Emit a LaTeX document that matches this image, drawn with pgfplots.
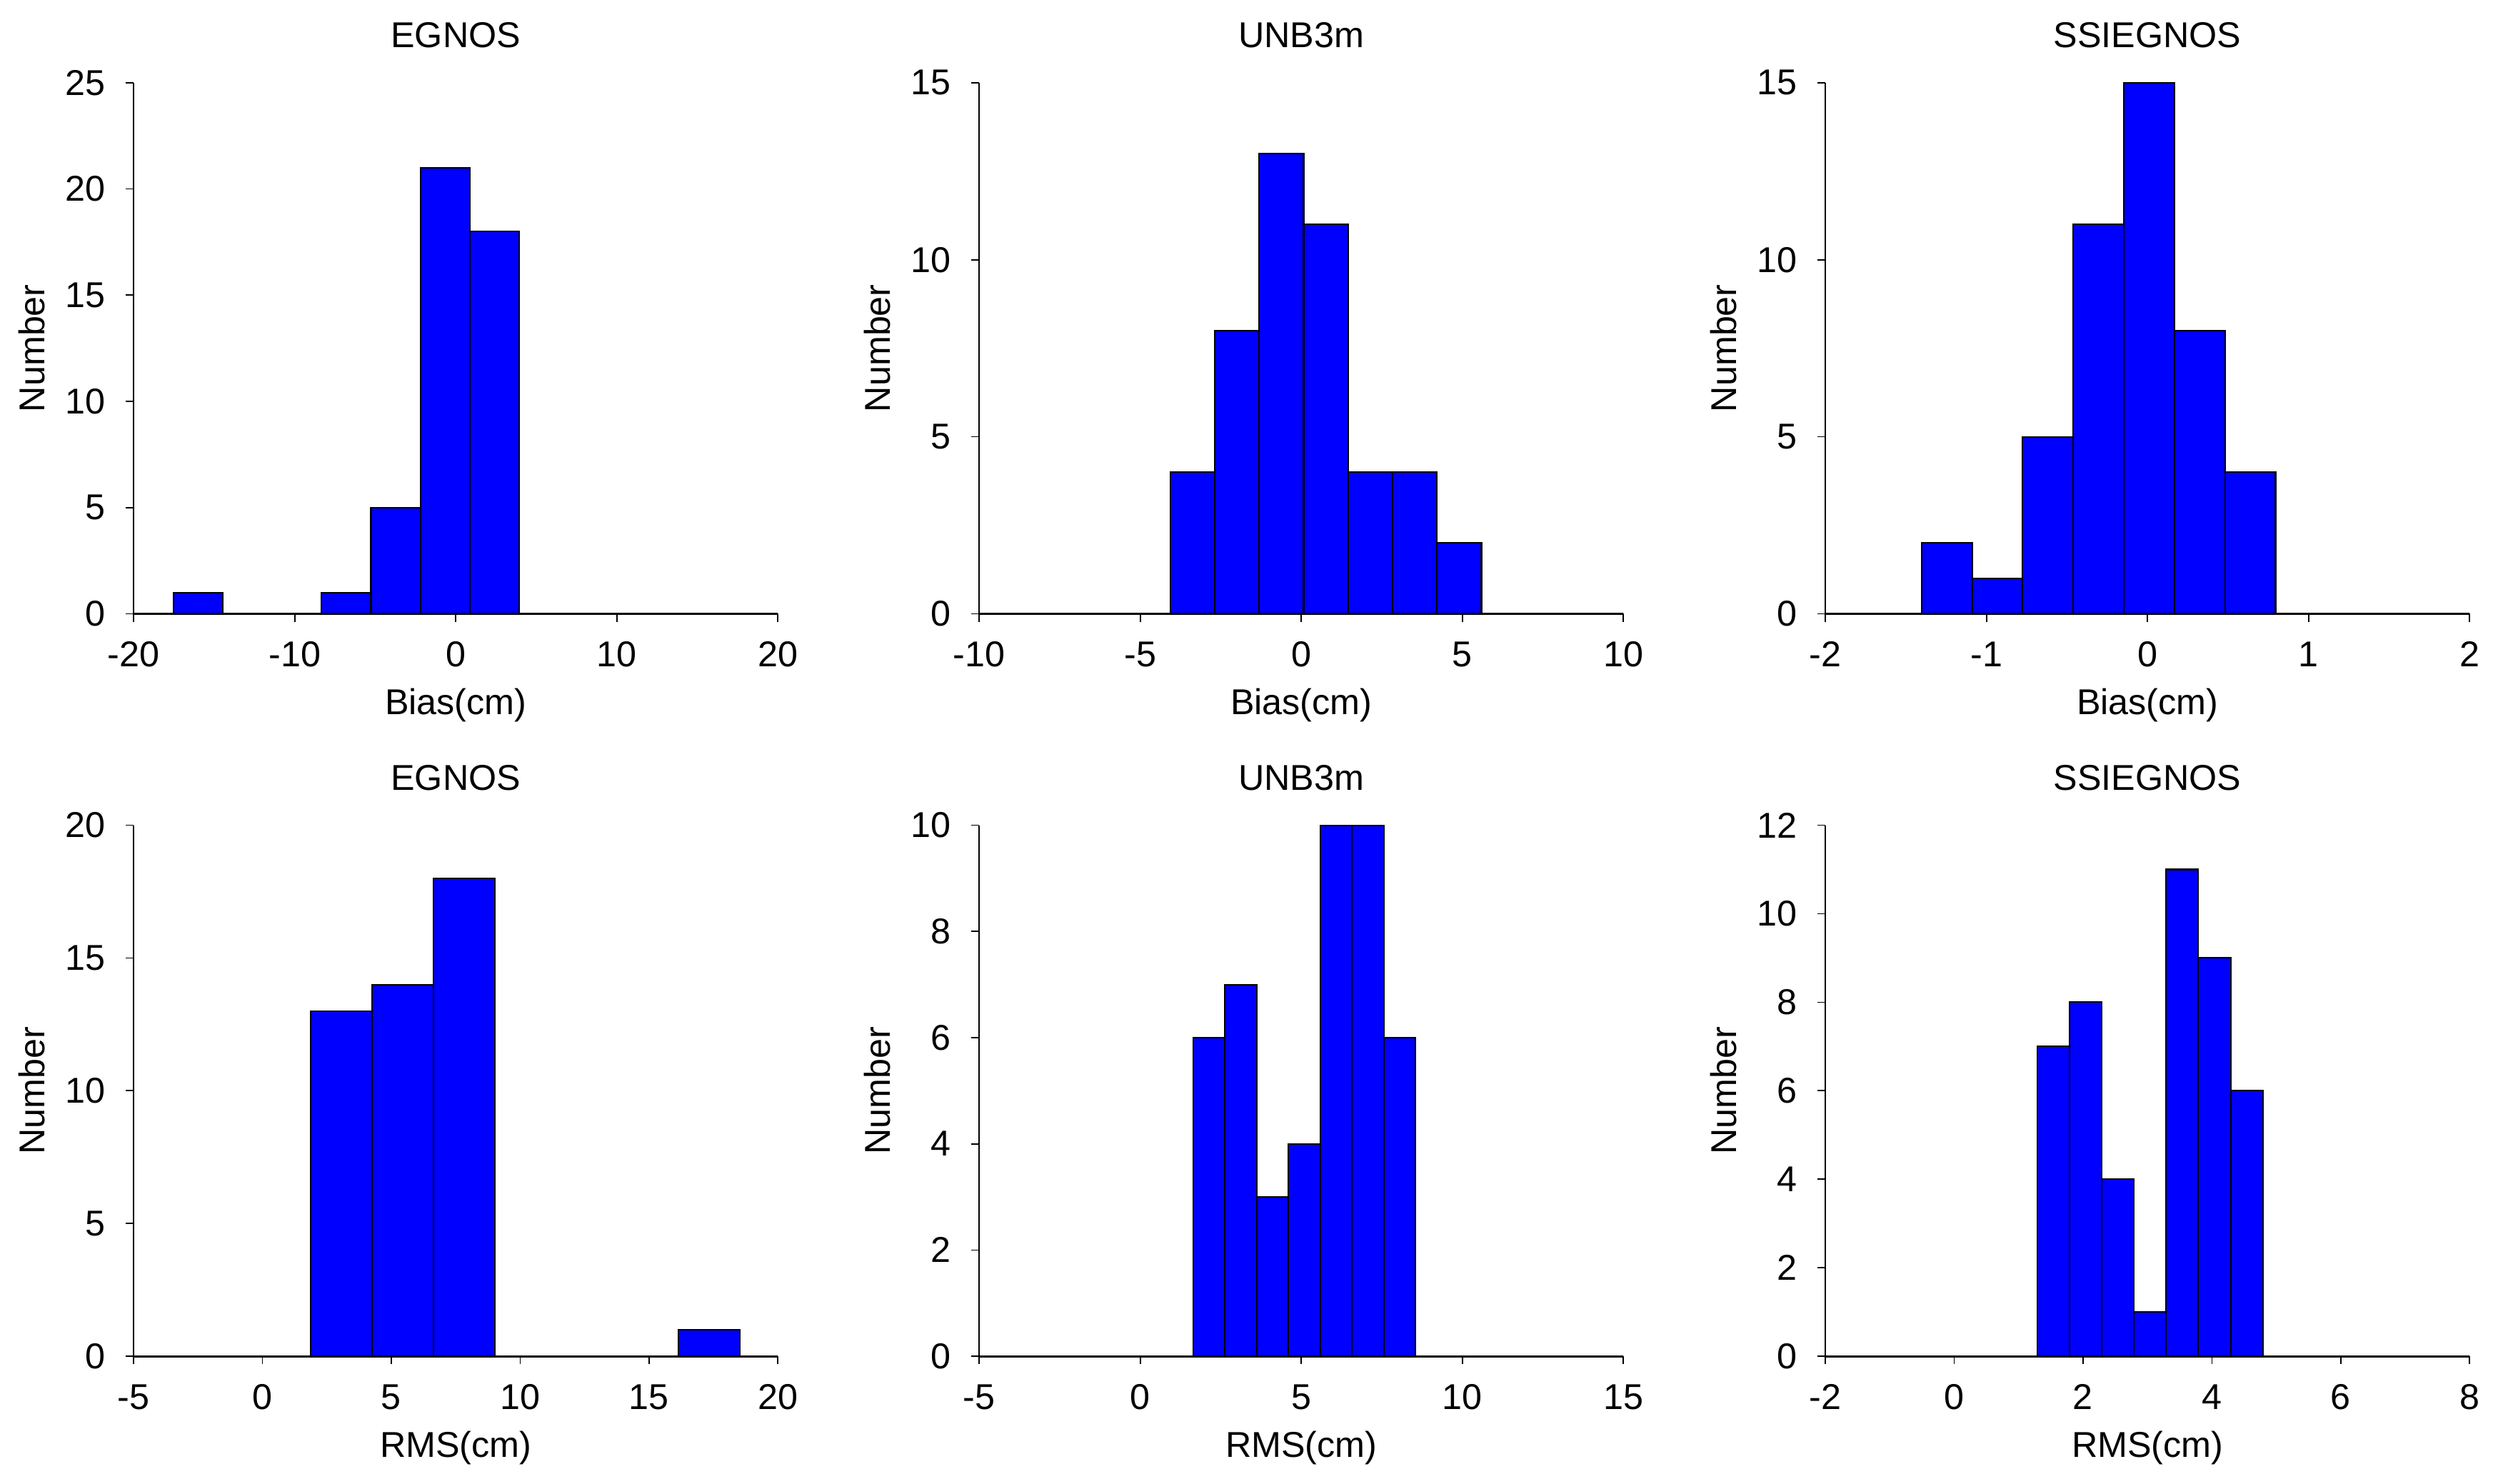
\documentclass[border=0pt]{standalone}
\usepackage{fontspec}
\setmainfont{Liberation Sans}
\usepackage{pgfplots}
\pgfplotsset{compat=1.18}
\definecolor{barblue}{RGB}{0,0,255}
\newcommand{\chartfont}{\fontsize{7.2}{8.6}\selectfont}
\pgfplotsset{
  every axis title shift=0pt,
  hist/.style={
    scale only axis, width=129.2pt, height=106.5pt,
    anchor=south west,
    axis x line=bottom, axis y line=left,
    axis line style={-},
    x axis line style={line width=0.45pt},
    y axis line style={line width=0.25pt},
    tick align=outside, major tick length=1.6pt,
    tick style={black, line width=0.25pt},
    minor tick num=0,
    ymin=0,
    /pgf/number format/assume math mode=true,
    tick label style={font=\chartfont},
    label style={font=\chartfont},
    title style={font=\chartfont, at={(axis description cs:0.5,1.066)}, anchor=base},
    xlabel style={at={(axis description cs:0.5,-0.19)}, anchor=base},
    ylabel style={at={(axis description cs:-0.158,0.5)}, anchor=center},
    xticklabel style={anchor=base, yshift=-9pt},
    yticklabel style={xshift=-0.6pt},
    ylabel=Number,
  },
  bins/.style={ybar, bar width=#1, fill=barblue, draw=black, line width=0.3pt},
}
\begin{document}
\begin{tikzpicture}
\path[use as bounding box] (0,0) rectangle (500pt,297.5pt);

% top row: bias
\begin{axis}[hist, at={(26.8pt,174.4pt)},
  xmin=-20, xmax=20, ymax=25,
  xtick={-20,-10,...,20}, ytick={0,5,...,25},
  title=EGNOS, xlabel={Bias(cm)}]
\addplot[bins=3.07] coordinates {(-16.005,1) (-6.795,1) (-3.725,5) (-0.655,21) (2.415,18)};
\end{axis}

\begin{axis}[hist, at={(196.4pt,174.4pt)},
  xmin=-10, xmax=10, ymax=15,
  xtick={-10,-5,...,10}, ytick={0,5,...,15},
  title=UNB3m, xlabel={Bias(cm)}]
\addplot[bins=1.38] coordinates {(-3.38,4) (-2.00,8) (-0.62,13) (0.76,11) (2.14,4) (3.52,4) (4.90,2)};
\end{axis}

\begin{axis}[hist, at={(366.1pt,174.4pt)},
  xmin=-2, xmax=2, ymax=15,
  xtick={-2,-1,...,2}, ytick={0,5,...,15},
  title=SSIEGNOS, xlabel={Bias(cm)}]
\addplot[bins=0.314] coordinates {(-1.246,2) (-0.932,1) (-0.618,5) (-0.304,11) (0.010,15) (0.324,8) (0.638,4)};
\end{axis}

% bottom row: rms
\begin{axis}[hist, at={(26.8pt,25.5pt)},
  xmin=-5, xmax=20, ymax=20,
  xtick={-5,0,...,20}, ytick={0,5,...,20},
  title=EGNOS, xlabel={RMS(cm)}]
\addplot[bins=2.38] coordinates {(3.06,13) (5.44,14) (7.82,18) (17.34,1)};
\end{axis}

\begin{axis}[hist, at={(196.4pt,25.5pt)},
  xmin=-5, xmax=15, ymax=10,
  xtick={-5,0,...,15}, ytick={0,2,...,10},
  title=UNB3m, xlabel={RMS(cm)}]
\addplot[bins=0.986] coordinates {(2.133,6) (3.119,7) (4.105,3) (5.091,4) (6.077,10) (7.063,10) (8.049,6)};
\end{axis}

\begin{axis}[hist, at={(366.1pt,25.5pt)},
  xmin=-2, xmax=8, ymax=12,
  xtick={-2,0,...,8}, ytick={0,2,...,12},
  title=SSIEGNOS, xlabel={RMS(cm)}]
\addplot[bins=0.5] coordinates {(1.54,7) (2.04,8) (2.54,4) (3.04,1) (3.54,11) (4.04,9) (4.54,6)};
\end{axis}
\end{tikzpicture}
\end{document}
